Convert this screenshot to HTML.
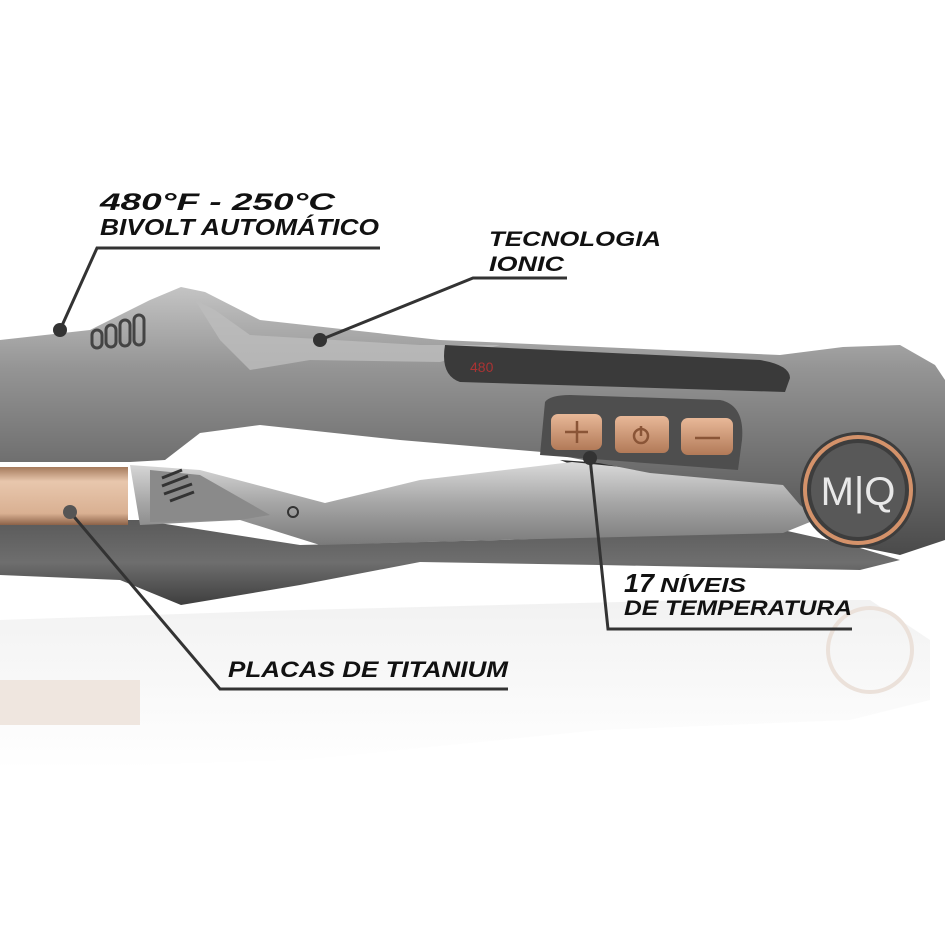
<!DOCTYPE html>
<html><head><meta charset="utf-8"><style>
html,body{margin:0;padding:0;background:#fff;}
svg{display:block;}
text{font-family:"Liberation Sans",sans-serif;font-weight:bold;font-style:italic;fill:#111;}
</style></head><body>
<svg width="945" height="945" viewBox="0 0 945 945" xmlns="http://www.w3.org/2000/svg">
<defs>
<linearGradient id="up" x1="0" y1="0" x2="0" y2="1">
<stop offset="0" stop-color="#c4c4c4"/><stop offset="0.3" stop-color="#959595"/><stop offset="0.7" stop-color="#6a6a6a"/><stop offset="1" stop-color="#4a4a4a"/></linearGradient>
<linearGradient id="low" x1="0" y1="0" x2="0" y2="1">
<stop offset="0" stop-color="#5a5a5a"/><stop offset="0.5" stop-color="#6e6e6e"/><stop offset="1" stop-color="#3e3e3e"/></linearGradient>
<linearGradient id="chrome" x1="0" y1="0" x2="0" y2="1">
<stop offset="0" stop-color="#dadada"/><stop offset="0.5" stop-color="#a5a5a5"/><stop offset="1" stop-color="#7a7a7a"/></linearGradient>
<linearGradient id="plate" x1="0" y1="0" x2="0" y2="1">
<stop offset="0" stop-color="#a57a5c"/><stop offset="0.25" stop-color="#e8c7ad"/><stop offset="0.8" stop-color="#d9b092"/><stop offset="1" stop-color="#8c6248"/></linearGradient>
<linearGradient id="btn" x1="0" y1="0" x2="0" y2="1">
<stop offset="0" stop-color="#e8b898"/><stop offset="1" stop-color="#b27a58"/></linearGradient>
<linearGradient id="refl" x1="0" y1="0" x2="0" y2="1">
<stop offset="0" stop-color="#e2e2e2"/><stop offset="1" stop-color="#fff"/></linearGradient>
</defs>

<!-- reflection -->
<path d="M0 620 L300 610 L700 600 L870 600 L930 640 L930 700 L850 720 L600 730 L300 760 L0 770 Z" fill="url(#refl)" opacity="0.45"/>
<rect x="0" y="680" width="140" height="45" fill="#efe6df"/>
<circle cx="870" cy="650" r="42" fill="none" stroke="#ebe1da" stroke-width="4"/>

<!-- lower body -->
<path d="M0 520 L140 520 L300 545 L500 540 L783 530 L850 545 L900 560 L860 570 L600 565 L420 562 L300 585 L181 605 L120 580 L0 575 Z" fill="url(#low)"/>
<!-- dark gap -->
<path d="M560 460 L700 470 L800 480 L815 510 L650 495 Z" fill="#2e2e2e"/>
<!-- lower chrome arm -->
<path d="M130 465 L200 470 L325 503 L420 480 L572 462 L700 475 L790 485 L815 520 L783 533 L500 540 L320 545 L240 520 L140 525 Z" fill="url(#chrome)"/>
<path d="M150 470 L200 475 L270 515 L240 520 L150 522 Z" fill="#8a8a8a"/>
<g stroke="#333" stroke-width="3">
<line x1="162" y1="478" x2="182" y2="470"/><line x1="162" y1="486" x2="188" y2="476"/><line x1="164" y1="494" x2="192" y2="484"/><line x1="170" y1="501" x2="194" y2="492"/></g>
<circle cx="293" cy="512" r="5" fill="none" stroke="#333" stroke-width="2"/>

<!-- upper arm -->
<path d="M0 340 L90 330 L150 300 L181 287 L205 292 L260 320 L440 340 L780 355 L843 347 L900 345 L935 365 L945 380 L945 540 L900 555 L850 545 L800 505 L783 485 L650 473 L542 452 L400 440 L260 425 L200 433 L165 460 L130 462 L0 462 Z" fill="url(#up)"/>
<path d="M195 300 L215 310 L250 335 L420 345 L500 345 L440 362 L310 360 L250 370 L220 340 Z" fill="#bdbdbd" opacity="0.8"/>
<!-- vents -->
<g fill="none" stroke="#444" stroke-width="3">
<rect x="92" y="330" width="10" height="18" rx="5"/><rect x="106" y="325" width="10" height="22" rx="5"/><rect x="120" y="320" width="10" height="26" rx="5"/><rect x="134" y="315" width="10" height="30" rx="5"/></g>
<!-- display -->
<path d="M445 345 L760 360 Q790 365 790 378 L785 392 L460 382 Q440 375 445 345 Z" fill="#3a3a3a"/>
<text x="470" y="372" style="font-size:14px;font-style:normal;font-weight:normal;fill:#a33;">480</text>
<!-- button panel -->
<path d="M545 402 Q550 395 570 395 L720 400 Q745 405 742 440 L738 470 L540 455 Z" fill="#4e4e4e"/>
<rect x="551" y="414" width="51" height="36" rx="7" fill="url(#btn)"/>
<rect x="615" y="416" width="54" height="37" rx="6" fill="url(#btn)"/>
<rect x="681" y="418" width="52" height="37" rx="7" fill="url(#btn)"/>
<g stroke="#8a5537" stroke-width="2.5" fill="none">
<line x1="565" y1="432" x2="588" y2="432"/><line x1="577" y1="421" x2="577" y2="443"/>
<circle cx="641" cy="436" r="7"/><line x1="641" y1="426" x2="641" y2="436"/>
<line x1="695" y1="438" x2="720" y2="438"/></g>
<!-- MQ circle -->
<circle cx="858" cy="490" r="58" fill="#3d3d3d"/>
<circle cx="858" cy="490" r="53" fill="none" stroke="#d4926a" stroke-width="4"/>
<circle cx="858" cy="490" r="47" fill="#585858"/>
<text x="858" y="505" text-anchor="middle" style="font-size:40px;font-style:normal;font-weight:normal;fill:#e8e8e8;">M|Q</text>
<!-- plate -->
<rect x="0" y="467" width="128" height="58" fill="url(#plate)"/>

<!-- labels -->
<text x="100" y="210" style="font-size:24px" textLength="235" lengthAdjust="spacingAndGlyphs">480°F - 250°C</text>
<text x="100" y="235" style="font-size:23px" textLength="279" lengthAdjust="spacingAndGlyphs">BIVOLT AUTOMÁTICO</text>
<polyline points="380,248 97,248 60,330" fill="none" stroke="#333" stroke-width="3"/>
<circle cx="60" cy="330" r="7" fill="#333"/>

<text x="489" y="246" style="font-size:21px" textLength="172" lengthAdjust="spacingAndGlyphs">TECNOLOGIA</text>
<text x="489" y="271" style="font-size:21px" textLength="75" lengthAdjust="spacingAndGlyphs">IONIC</text>
<polyline points="567,278 473,278 320,340" fill="none" stroke="#333" stroke-width="3"/>
<circle cx="320" cy="340" r="7" fill="#333"/>

<text x="624" y="592" style="font-size:26px" textLength="30" lengthAdjust="spacingAndGlyphs">17</text>
<text x="660" y="592" style="font-size:20px" textLength="86" lengthAdjust="spacingAndGlyphs">NÍVEIS</text>
<text x="624" y="615" style="font-size:21px" textLength="228" lengthAdjust="spacingAndGlyphs">DE TEMPERATURA</text>
<polyline points="590,458 608,629 852,629" fill="none" stroke="#333" stroke-width="3"/>
<circle cx="590" cy="458" r="7" fill="#333"/>

<text x="228" y="677" style="font-size:22px" textLength="280" lengthAdjust="spacingAndGlyphs">PLACAS DE TITANIUM</text>
<polyline points="70,512 220,689 508,689" fill="none" stroke="#333" stroke-width="3"/>
<circle cx="70" cy="512" r="7" fill="#555"/>
</svg>
</body></html>
